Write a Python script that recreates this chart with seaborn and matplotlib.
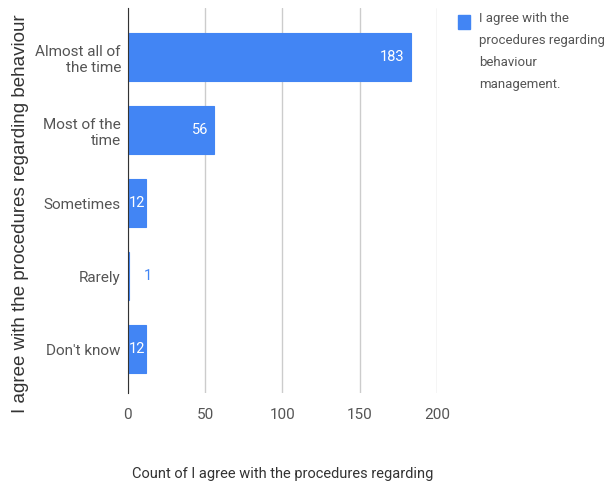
import matplotlib
matplotlib.use("Agg")
import matplotlib.pyplot as plt
import seaborn as sns
import pandas as pd

# Survey answers and counts
categories = ["Almost all of\nthe time", "Most of the\ntime", "Sometimes", "Rarely", "Don't know"]
counts = [183, 56, 12, 1, 12]
x_ticks = [0, 50, 100, 150, 200]
legend_label = "I agree with the\nprocedures regarding\nbehaviour\nmanagement."

BAR_COLOR = "#4285F4"
FS = 10.5

sns.set_style("white")
plt.rcParams["font.family"] = ["Roboto", "DejaVu Sans"]

df = pd.DataFrame({"answer": categories, "count": counts})

fig = plt.figure(figsize=(6.06, 4.84), dpi=100)
ax = fig.add_axes([0.211, 0.188, 0.51, 0.795])

sns.barplot(data=df, y="answer", x="count", orient="h", color=BAR_COLOR,
            width=0.66, saturation=1, ax=ax, zorder=3, linewidth=0.8, edgecolor=BAR_COLOR)

ax.set_xlim(0, 200)
ax.set_ylim(4.603, -0.671)
ax.set_xticks(x_ticks)
ax.grid(axis="x", color="#cccccc", linewidth=1, zorder=0)
ax.tick_params(axis="both", length=0, labelsize=FS + 0.5, colors="#555555")
ax.tick_params(axis="x", pad=11)
ax.tick_params(axis="y", pad=5)
for s in ["top", "right", "bottom"]:
    ax.spines[s].set_visible(False)
ax.spines["left"].set_color("#333333")
ax.spines["left"].set_zorder(4)

# value labels
for i, v in enumerate(counts):
    if v >= 10:
        if v > 30:
            ax.text(v - 4, i, str(v), ha="right", va="center", color="white", fontsize=FS, zorder=5)
        else:
            ax.text(0.8, i, str(v), ha="left", va="center", color="white", fontsize=FS, zorder=5)
    else:
        ax.text(v + 9, i, str(v), ha="left", va="center", color=BAR_COLOR, fontsize=FS, zorder=5)

ax.set_xlabel("Count of I agree with the procedures regarding", fontsize=FS,
              color="#333333", labelpad=32)
ax.set_ylabel("I agree with the procedures regarding behaviour", fontsize=13.5,
              color="#333333", family=["Liberation Sans", "DejaVu Sans"])
ax.yaxis.set_label_coords(-0.32, 0.465)

# legend
fig.patches.append(plt.Rectangle((458 / 606, 1 - 29 / 484), 12 / 606, 14 / 484,
                                 transform=fig.transFigure, color=BAR_COLOR))
fig.text(479 / 606, 1 - 12 / 484, legend_label, ha="left", va="top", fontsize=9.5,
         color="#555555", linespacing=1.9)

plt.savefig("out.png", dpi=100)
plt.close()
